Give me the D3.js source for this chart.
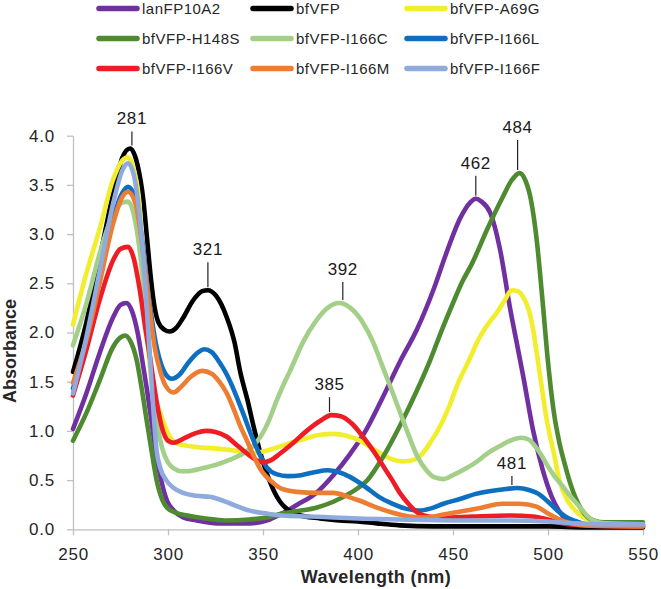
<!DOCTYPE html>
<html>
<head>
<meta charset="utf-8">
<script src="https://cdn.jsdelivr.net/npm/d3@7"></script>
<style>
  html, body { margin: 0; padding: 0; background: #ffffff; }
  svg { display: block; }
  text { font-family: Arial, "Liberation Sans", sans-serif; }
</style>
</head>
<body>
<svg id="chart" width="661" height="589"></svg>
<script>
// ---------------- data (wavelength nm, absorbance) ----------------
const seriesNames = ["lanFP10A2", "bfVFP", "bfVFP-A69G", "bfVFP-H148S", "bfVFP-I166C",
                     "bfVFP-I166L", "bfVFP-I166V", "bfVFP-I166M", "bfVFP-I166F"];
const seriesColors = ["#7030a0", "#000000", "#f2ee2e", "#4e8a2f", "#a3cf88",
                      "#0e6fc0", "#ee1c24", "#ed7d31", "#8faadc"];

const lanFP10A2 = [[250,1.02],[257,1.38],[264,1.79],[271,2.15],[275,2.28],[278,2.3],[281,2.22],[284,2.0],[287,1.65],[289,1.41],[291.5,1.07],[294,0.73],[297,0.45],[299.5,0.29],[303,0.19],[308,0.12],[315,0.09],[326,0.06],[343,0.06],[352,0.09],[360,0.16],[368,0.25],[378,0.37],[387,0.55],[396,0.77],[404,1.0],[413,1.34],[422,1.7],[431,2.03],[440,2.45],[446,2.78],[454,3.17],[459,3.32],[462,3.36],[465,3.33],[469.5,3.22],[474.7,2.85],[480,2.25],[484,1.85],[487,1.55],[492,1.02],[497,0.62],[502,0.33],[506,0.18],[510,0.09],[515,0.05],[530,0.04],[550,0.03]];

const bfVFP = [[250,1.6],[257,2.1],[264,2.75],[271,3.4],[276,3.78],[280,3.87],[284,3.7],[287,3.35],[289,2.95],[291,2.55],[293,2.25],[295,2.1],[298,2.03],[301,2.01],[304,2.04],[308,2.15],[313,2.32],[318,2.42],[321,2.43],[325,2.38],[331,2.15],[335,1.9],[338,1.6],[342,1.3],[345,1.05],[349,0.75],[352,0.57],[356,0.38],[359,0.28],[363,0.2],[368,0.15],[380,0.11],[390,0.09],[400,0.08],[410,0.06],[422,0.04],[440,0.03],[470,0.03],[500,0.03],[520,0.02],[550,0.02]];

const bfVFP_A69G = [[250,2.08],[257,2.6],[264,3.05],[271,3.55],[276,3.75],[279,3.78],[282,3.65],[285,3.3],[288,2.2],[290.5,1.65],[293,1.35],[296,1.18],[299,1.02],[301,0.94],[305,0.87],[310,0.85],[318,0.83],[326,0.82],[335,0.8],[343,0.77],[350,0.79],[357,0.83],[365,0.88],[372,0.92],[380,0.96],[387,0.97],[394,0.95],[401,0.9],[407,0.83],[413,0.76],[418,0.71],[423,0.69],[428,0.7],[433,0.75],[438,0.88],[443,1.04],[448,1.25],[453,1.5],[458,1.7],[464,1.95],[469,2.1],[473,2.2],[477,2.32],[481,2.43],[484,2.42],[487,2.36],[490,2.22],[492,2.05],[494,1.8],[497,1.41],[499,1.15],[501,0.95],[503,0.78],[506,0.5],[510,0.3],[513,0.22],[518,0.13],[522,0.09],[530,0.06],[550,0.05]];

const bfVFP_H148S = [[250,0.9],[257,1.18],[264,1.51],[271,1.85],[275,1.95],[277.5,1.97],[280,1.92],[283.5,1.72],[286,1.45],[289,1.08],[291.5,0.78],[294,0.5],[297,0.3],[299.5,0.22],[304,0.17],[310,0.14],[320,0.11],[330,0.09],[343,0.1],[352,0.12],[360,0.16],[370,0.19],[378,0.22],[387,0.28],[396,0.37],[405,0.5],[413,0.73],[422,1.05],[431,1.41],[438,1.72],[444,2.02],[450,2.3],[455,2.52],[460,2.7],[468,3.05],[476,3.37],[481,3.55],[485,3.62],[488,3.55],[491,3.35],[494,2.95],[497,2.35],[500,1.7],[503,1.2],[506,0.88],[509,0.65],[512,0.45],[517,0.22],[521,0.12],[524,0.09],[530,0.07],[540,0.07],[550,0.07]];

const bfVFP_I166C = [[250,1.87],[257,2.29],[264,2.8],[271,3.2],[276,3.32],[279,3.33],[282,3.2],[285,2.85],[288,2.3],[291,1.65],[294,1.1],[297,0.82],[300,0.68],[303,0.62],[307,0.59],[310,0.59],[318,0.62],[326,0.66],[333,0.71],[339.5,0.77],[345,0.85],[349,0.95],[353,1.1],[357,1.3],[361,1.48],[364,1.6],[371,1.9],[378,2.12],[384,2.25],[390,2.3],[396,2.25],[402.6,2.1],[408,1.9],[413,1.65],[419,1.35],[425.8,1.0],[431,0.75],[436,0.6],[440,0.53],[445,0.51],[450,0.55],[455,0.6],[462,0.68],[468,0.77],[475,0.85],[480,0.9],[486,0.93],[490,0.91],[493,0.85],[496,0.77],[499,0.67],[503,0.55],[508,0.43],[512,0.33],[517,0.22],[521,0.13],[524,0.09],[530,0.06],[550,0.05]];

const bfVFP_I166L = [[250,1.43],[257,1.9],[264,2.55],[271,3.15],[276,3.42],[279,3.48],[283,3.35],[287,2.85],[290,2.35],[293,1.95],[296,1.7],[299,1.57],[302,1.53],[306,1.57],[311,1.7],[316,1.8],[319,1.83],[323,1.8],[327,1.7],[331,1.57],[335,1.4],[339.5,1.18],[344,0.95],[348,0.77],[352,0.63],[357,0.56],[363,0.54],[370,0.55],[377,0.58],[384,0.6],[390,0.58],[396,0.53],[404,0.43],[411,0.33],[418,0.26],[425,0.21],[432,0.19],[438,0.21],[445,0.26],[454,0.31],[462,0.36],[470,0.39],[478,0.41],[484,0.42],[490,0.4],[495,0.36],[500,0.28],[505,0.19],[510,0.12],[515,0.08],[520,0.05],[530,0.04],[550,0.04]];

const bfVFP_I166V = [[250,1.36],[257,1.82],[264,2.33],[271,2.73],[275,2.85],[279,2.87],[282,2.75],[285,2.45],[288,2.05],[290.5,1.75],[294,1.3],[297,1.02],[300,0.9],[303,0.88],[306,0.9],[310,0.94],[315,0.98],[320,1.0],[325,0.99],[331,0.94],[336,0.86],[341.6,0.77],[346,0.71],[350,0.68],[354,0.7],[359,0.77],[366,0.88],[373,1.0],[380,1.1],[386,1.16],[391,1.15],[397,1.07],[403,0.93],[408,0.8],[414,0.62],[418,0.5],[422,0.37],[427,0.25],[432,0.16],[437,0.13],[445,0.12],[460,0.13],[480,0.14],[492,0.13],[500,0.1],[508,0.06],[520,0.04],[550,0.03]];

const bfVFP_I166M = [[250,1.49],[257,1.92],[264,2.5],[271,3.1],[276,3.38],[279,3.43],[283,3.3],[287,2.8],[290,2.3],[293,1.85],[296,1.6],[299,1.45],[303,1.39],[307,1.45],[312,1.55],[318,1.61],[323,1.58],[327,1.5],[331,1.38],[335,1.2],[338,1.05],[341.6,0.9],[345,0.75],[349,0.6],[352,0.53],[356,0.46],[360,0.41],[368,0.38],[378,0.37],[387,0.37],[395,0.33],[401,0.29],[410,0.22],[418,0.17],[427,0.13],[436,0.12],[445,0.15],[454,0.18],[465,0.22],[476,0.26],[485,0.26],[494,0.23],[500,0.16],[505,0.11],[512,0.06],[520,0.04],[550,0.03]];

const bfVFP_I166F = [[250,1.38],[257,1.95],[264,2.62],[271,3.3],[276,3.65],[279,3.72],[282,3.6],[285,3.2],[288,2.5],[290,1.9],[292,1.3],[294,0.8],[296,0.62],[299,0.5],[303,0.42],[308,0.37],[315,0.34],[322,0.33],[326,0.31],[333,0.26],[343,0.19],[352,0.16],[360,0.14],[375,0.13],[387,0.12],[400,0.11],[422,0.1],[450,0.09],[480,0.09],[500,0.08],[515,0.06],[530,0.05],[550,0.05]];

const seriesData = [lanFP10A2, bfVFP, bfVFP_A69G, bfVFP_H148S, bfVFP_I166C,
                    bfVFP_I166L, bfVFP_I166V, bfVFP_I166M, bfVFP_I166F];

const xTicks = [250, 300, 350, 400, 450, 500, 550];
const yTicks = [0, 0.5, 1, 1.5, 2, 2.5, 3, 3.5, 4];

// peak annotations: wavelength, absorbance at peak, label
const peakWavelengths = [281, 321, 392, 385, 462, 484, 481];
const peakValues = [3.87, 2.43, 2.3, 1.16, 3.36, 3.62, 0.42];
const peakLabels = ["281", "321", "392", "385", "462", "484", "481"];
// leader line lengths (layout)
const leaderLengths = [14, 25, 18, 15, 20, 30, 9];

// ---------------- drawing ----------------
const svg = d3.select("#chart");
const x = d3.scaleLinear().domain([250, 550]).range([73, 643]);
const y = d3.scaleLinear().domain([0, 4]).range([529.3, 135.7]);

const axisColor = "#bfbfbf";
const textColor = "#262626";

// Y axis
const gy = svg.append("g").attr("transform", `translate(${x(250)},0)`)
  .call(d3.axisLeft(y).tickValues(yTicks).tickFormat(d3.format(".1f"))
        .tickSize(6).tickSizeOuter(0).tickPadding(12));
// X axis
const gx = svg.append("g").attr("transform", `translate(0,${y(0)})`)
  .call(d3.axisBottom(x).tickValues(xTicks).tickFormat(d3.format("d"))
        .tickSize(6).tickSizeOuter(0).tickPadding(13));

[gx, gy].forEach(g => {
  g.select(".domain").attr("stroke", axisColor).attr("stroke-width", 1.3);
  g.selectAll(".tick line").attr("stroke", axisColor).attr("stroke-width", 1.3);
  g.selectAll(".tick text")
    .attr("fill", textColor)
    .style("font-size", "17px")
    .style("letter-spacing", "0.8px")
    .style("font-family", "Arial, 'Liberation Sans', sans-serif");
});

// Lines
const line = d3.line()
  .x(d => x(d[0]))
  .y(d => y(d[1]))
  .curve(d3.curveMonotoneX);

svg.append("g").selectAll("path")
  .data(seriesData)
  .join("path")
  .attr("d", d => line(d))
  .attr("fill", "none")
  .attr("stroke", (d, i) => seriesColors[i])
  .attr("stroke-width", 4.6)
  .attr("stroke-linejoin", "round")
  .attr("stroke-linecap", "round");

// Peak annotations
const ann = svg.append("g");
peakWavelengths.forEach((w, i) => {
  const px = x(w);
  const py = y(peakValues[i]) - 3;
  const top = py - leaderLengths[i];
  ann.append("line")
    .attr("x1", px).attr("x2", px)
    .attr("y1", py).attr("y2", top)
    .attr("stroke", "#222").attr("stroke-width", 1.2);
  ann.append("text")
    .attr("x", px).attr("y", top - 7)
    .attr("text-anchor", "middle")
    .attr("fill", "#1a1a1a")
    .style("font-size", "17px")
    .style("letter-spacing", "0.6px")
    .text(peakLabels[i]);
});

// Axis titles
svg.append("text")
  .attr("transform", `translate(16,351) rotate(-90)`)
  .attr("text-anchor", "middle")
  .attr("fill", textColor)
  .style("font-size", "18px").style("font-weight", "bold")
  .text("Absorbance");
svg.append("text")
  .attr("x", 376).attr("y", 583)
  .attr("text-anchor", "middle")
  .attr("fill", textColor)
  .style("font-size", "18px").style("font-weight", "bold")
  .style("letter-spacing", "0.4px")
  .text("Wavelength (nm)");

// Legend (3 columns x 3 rows)
const legendCols = [97, 251, 405];
const legendRows = [8.5, 38.5, 68.5];
const lg = svg.append("g");
seriesNames.forEach((name, i) => {
  const cx = legendCols[i % 3];
  const cy = legendRows[Math.floor(i / 3)];
  lg.append("line")
    .attr("x1", cx + 2).attr("x2", cx + 40)
    .attr("y1", cy).attr("y2", cy)
    .attr("stroke", seriesColors[i]).attr("stroke-width", 5.5)
    .attr("stroke-linecap", "round");
  lg.append("text")
    .attr("x", cx + 45).attr("y", cy + 5.5)
    .attr("fill", textColor)
    .style("font-size", "15px")
    .style("letter-spacing", "0.5px")
    .text(name);
});
</script>
</body>
</html>
